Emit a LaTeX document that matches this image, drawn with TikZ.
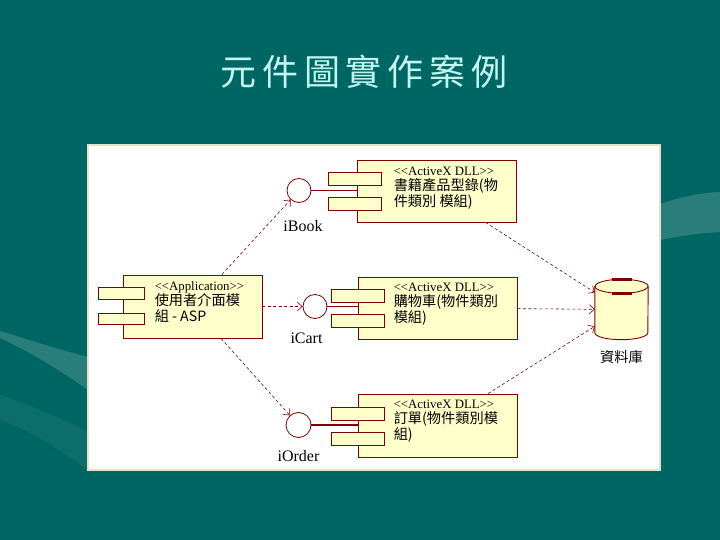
\documentclass[tikz,border=0pt]{standalone}
\usepackage{fontspec}
\setmainfont{Liberation Serif}
\newfontfamily\cjk{Noto Sans CJK TC}
\newfontfamily\titlefont[LetterSpace=16]{Noto Sans CJK TC}
\usetikzlibrary{arrows.meta,positioning}
\definecolor{slideTeal}{RGB}{0,102,100}
\definecolor{slideCyan}{RGB}{195,245,240}
\definecolor{umlRed}{RGB}{128,0,0}
\definecolor{umlYellow}{RGB}{255,255,204}
\definecolor{panelEdge}{RGB}{228,226,200}
\newcommand{\stereotype}[1]{{\rmfamily\fontsize{12.8pt}{15.5pt}\selectfont<{}<#1>{}>}}

\begin{document}
\begin{tikzpicture}[
  x=1pt,y=-1pt,
  component/.style={
    draw=umlRed,
    fill=umlYellow,
    line width=0.9pt,
    inner sep=0pt,
    minimum width=159pt,
    minimum height=62pt
  },
  tab/.style={draw=umlRed,fill=umlYellow,line width=0.9pt,inner sep=0pt,minimum width=53pt,minimum height=13pt},
  compText/.style={align=left,inner sep=0pt,font=\cjk\fontsize{14.2pt}{15.5pt}\selectfont},
  iface/.style={circle,draw=umlRed,fill=white,line width=0.8pt,inner sep=0pt,minimum size=24pt},
  ifaceLabel/.style={inner sep=0pt,font=\fontsize{16pt}{18pt}\selectfont},
  dep/.style={umlRed,line width=0.6pt,dash pattern=on 3pt off 2.5pt,-{Straight Barb[length=5pt,width=9pt]}},
  swoosh/.style={fill=white,fill opacity=0.16}
]
  \useasboundingbox (0,0) rectangle (720,540);
  % slide background
  \fill[slideTeal] (0,0) rectangle (720,540);
  \fill[swoosh] (0,331) .. controls (30,340) and (60,350) .. (88,357) -- (88,390) .. controls (60,370) and (30,352) .. (0,338) -- cycle;
  \fill[swoosh,fill opacity=0.05] (0,395) .. controls (30,405) and (60,418) .. (88,432) -- (88,470) .. controls (60,450) and (30,430) .. (0,420) -- cycle;
  \fill[swoosh] (660,204) .. controls (680,197) and (700,193) .. (720,192) -- (720,232) .. controls (700,233) and (680,236) .. (660,240) -- cycle;
  \node[font=\titlefont\fontsize{36pt}{40pt}\selectfont,text=slideCyan] (title) at (364,72) {元件圖實作案例};
  \draw[panelEdge,fill=white,line width=1.5pt] (88,145) rectangle (660,470);

  % components
  \node[component,minimum width=139pt,minimum height=63pt] (appBody) at (192.5,306.5) {};
  \node[tab,minimum width=46pt,minimum height=11.5pt] (appTabA) at ([xshift=-1pt,yshift=13pt]appBody.west) {};
  \node[tab,minimum width=46pt,minimum height=11.5pt] (appTabB) at ([xshift=-1pt,yshift=-12.5pt]appBody.west) {};
  \node[compText,right=32pt of appBody.west,yshift=5pt] (appText) {\stereotype{Application}\\使用者介面模\\組 - ASP};

  \node[component] (bookBody) at (436.5,191) {};
  \node[tab] (bookTabA) at ([xshift=-1.5pt,yshift=12.5pt]bookBody.west) {};
  \node[tab] (bookTabB) at ([xshift=-1.5pt,yshift=-13pt]bookBody.west) {};
  \node[compText,right=37pt of bookBody.west,yshift=3pt] (bookText) {\stereotype{ActiveX DLL}\\書籍產品型錄(物\\件類別 模組)};

  \node[component] (cartBody) at (437.5,308) {};
  \node[tab] (cartTabA) at ([yshift=12.5pt]cartBody.west) {};
  \node[tab] (cartTabB) at ([yshift=-13pt]cartBody.west) {};
  \node[compText,right=36pt of cartBody.west,yshift=4pt] (cartText) {\stereotype{ActiveX DLL}\\購物車(物件類別\\模組)};

  \node[component,minimum height=63pt] (orderBody) at (437.5,425.5) {};
  \node[tab] (orderTabA) at ([yshift=12pt]orderBody.west) {};
  \node[tab] (orderTabB) at ([yshift=-13pt]orderBody.west) {};
  \node[compText,right=36pt of orderBody.west,yshift=4.5pt] (orderText) {\stereotype{ActiveX DLL}\\訂單(物件類別模\\組)};

  % database
  \node[inner sep=0pt,minimum width=53pt,minimum height=60pt] (db) at (621.5,309.5) {};
  \draw[umlRed,fill=umlYellow,line width=0.9pt] ([yshift=-7pt]db.north west) -- ([yshift=7pt]db.south west)
    arc[start angle=180,end angle=360,x radius=26.5pt,y radius=7pt] -- ([yshift=-7pt]db.north east)
    arc[start angle=0,end angle=180,x radius=26.5pt,y radius=7pt] -- cycle;
  \draw[umlRed,line width=0.9pt] ([yshift=-7pt]db.north west) arc[start angle=180,end angle=360,x radius=26.5pt,y radius=7pt];
  \draw[umlRed,line width=2.5pt] ([xshift=-10pt]db.north) -- ([xshift=10pt]db.north);
  \draw[umlRed,line width=2.5pt] ([xshift=-10pt,yshift=-14pt]db.north) -- ([xshift=10pt,yshift=-14pt]db.north);
  \node[compText,below=11pt of db] (dbLabel) {資料庫};

  % interfaces
  \node[iface] (iBook) at (299,190.5) {};
  \node[iface] (iCart) at (315,306.5) {};
  \node[iface,minimum size=25pt] (iOrder) at (298.5,425) {};
  \node[ifaceLabel,below=17pt of iBook,xshift=4pt] (iBookLabel) {iBook};
  \node[ifaceLabel,below=14pt of iCart,xshift=-8.5pt] (iCartLabel) {iCart};
  \node[ifaceLabel,below=12pt of iOrder] (iOrderLabel) {iOrder};
  \draw[umlRed,line width=0.8pt] (iBook.east) -- (iBook.east -| bookBody.west);
  \draw[umlRed,line width=0.8pt] (iCart.east) -- (iCart.east -| cartBody.west);
  \draw[umlRed,line width=2pt] (iOrder.east) -- (iOrder.east -| orderBody.west);

  % dependencies
  \draw[dep] (appBody) -- (iBook);
  \draw[dep] (appBody) -- (iCart);
  \draw[dep] (appBody) -- (iOrder);
  \draw[dep] (bookBody) -- (db);
  \draw[dep] (cartBody) -- (db);
  \draw[dep] (orderBody) -- (db);
\end{tikzpicture}
\end{document}
